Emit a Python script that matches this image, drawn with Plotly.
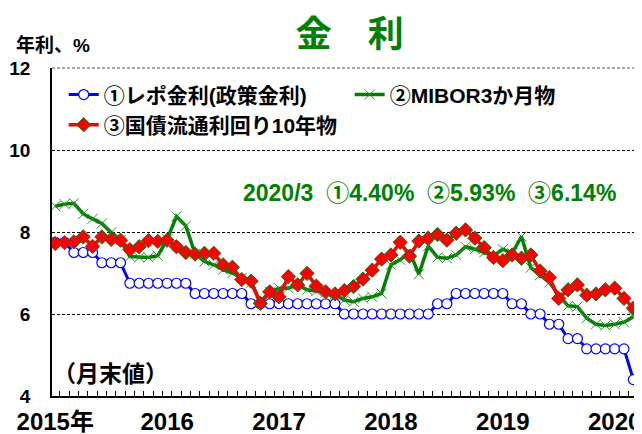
import plotly.graph_objects as go

months = [f"{y}/{m:02d}" for y in range(2015, 2021) for m in range(1, 13)][:63]

repo = [7.75, 7.75, 7.50, 7.50, 7.50, 7.25, 7.25, 7.25, 6.75, 6.75, 6.75, 6.75,
        6.75, 6.75, 6.75, 6.50, 6.50, 6.50, 6.50, 6.50, 6.50, 6.25, 6.25, 6.25,
        6.25, 6.25, 6.25, 6.25, 6.25, 6.25, 6.25, 6.00, 6.00, 6.00, 6.00, 6.00,
        6.00, 6.00, 6.00, 6.00, 6.00, 6.25, 6.25, 6.50, 6.50, 6.50, 6.50, 6.50,
        6.50, 6.25, 6.25, 6.00, 6.00, 5.75, 5.75, 5.40, 5.40, 5.15, 5.15, 5.15,
        5.15, 5.15, 4.40]

mibor = [8.63, 8.68, 8.70, 8.44, 8.32, 8.21, 7.99, 7.80, 7.40, 7.38, 7.38, 7.42,
         7.82, 8.38, 8.15, 7.47, 7.28, 7.20, 7.08, 7.00, 6.88, 6.76, 6.30, 6.54,
         6.63, 6.63, 6.72, 6.59, 6.56, 6.52, 6.48, 6.34, 6.30, 6.38, 6.42, 6.50,
         7.20, 7.32, 7.52, 6.97, 7.66, 7.38, 7.36, 7.44, 7.64, 7.58, 7.50, 7.42,
         7.58, 7.48, 7.89, 7.13, 6.95, 6.77, 6.46, 6.20, 6.18, 5.90, 5.75, 5.72,
         5.75, 5.80, 5.93]

gsec = [7.72, 7.74, 7.76, 7.88, 7.65, 7.88, 7.82, 7.80, 7.57, 7.64, 7.79, 7.77,
        7.80, 7.64, 7.50, 7.46, 7.48, 7.48, 7.20, 7.14, 6.84, 6.80, 6.26, 6.54,
        6.42, 6.91, 6.71, 6.99, 6.68, 6.54, 6.49, 6.57, 6.67, 6.85, 7.07, 7.34,
        7.44, 7.75, 7.41, 7.78, 7.85, 7.94, 7.80, 7.97, 8.05, 7.85, 7.62, 7.38,
        7.30, 7.44, 7.36, 7.44, 7.05, 6.89, 6.38, 6.59, 6.71, 6.46, 6.49, 6.59,
        6.63, 6.38, 6.14]

series_names = ["①レポ金利(政策金利)", "②MIBOR3か月物", "③国債流通利回り10年物"]
year_months = ["2015/01", "2016/01", "2017/01", "2018/01", "2019/01", "2020/01"]
year_labels = ["2015年", "2016", "2017", "2018", "2019", "2020"]
y_ticks = [4, 6, 8, 10, 12]
latest_note = "2020/3  ①4.40%  ②5.93%  ③6.14%"

xi = list(range(len(months)))
jp = "Liberation Sans, Noto Sans CJK JP"
narrow = "Liberation Sans Narrow, Liberation Sans, Noto Sans CJK JP"

fig = go.Figure()
fig.add_trace(go.Scatter(
    x=xi, y=repo, name=series_names[0], mode="lines+markers", legend="legend",
    line=dict(color="#0000FF", width=3),
    marker=dict(symbol="circle", size=10, color="white",
                line=dict(color="#0000FF", width=1.2))))
fig.add_trace(go.Scatter(
    x=xi, y=mibor, name=series_names[1], mode="lines+markers", legend="legend2",
    line=dict(color="#008000", width=3.5),
    marker=dict(symbol="x-thin-open", size=10, color="#2e8b2e",
                line=dict(color="#2e8b2e", width=1))))
fig.add_trace(go.Scatter(
    x=xi, y=gsec, name=series_names[2], mode="lines+markers", legend="legend3",
    line=dict(color="#FF0000", width=3.5),
    marker=dict(symbol="diamond", size=11, color="#FF0000",
                line=dict(color="#1a6e1a", width=1))))

legfont = dict(family=jp, size=21, color="black", weight="bold")
fig.update_layout(
    width=634, height=426,
    showlegend=True,
    margin=dict(l=44, r=4, t=60, b=38, autoexpand=False),
    paper_bgcolor="white", plot_bgcolor="white",
    title=dict(text="金　利", x=0.539, xref="container", y=0.938, yref="container",
               xanchor="center", yanchor="middle",
               font=dict(family=jp, size=36, color="#008000", weight="bold")),
    legend=dict(x=0.020, y=0.918, xanchor="left", yanchor="middle", font=legfont,
                bgcolor="rgba(0,0,0,0)", itemwidth=30),
    legend2=dict(x=0.508, y=0.918, xanchor="left", yanchor="middle", font=legfont,
                 bgcolor="rgba(0,0,0,0)", itemwidth=30),
    legend3=dict(x=0.020, y=0.826, xanchor="left", yanchor="middle", font=legfont,
                 bgcolor="rgba(0,0,0,0)", itemwidth=30),
    xaxis=dict(range=[-0.35, 62.5], tickvals=[months.index(m) for m in year_months],
               ticktext=year_labels, ticks="", showgrid=False, zeroline=False,
               showline=True, linecolor="black", linewidth=1.5,
               ticklabelstandoff=3, automargin=False,
               tickfont=dict(family=narrow, size=24, color="black", weight="bold"),
               minor=dict(tick0=-0.5, dtick=1, ticks="inside", ticklen=5,
                          tickwidth=1, tickcolor="black", showgrid=False)),
    yaxis=dict(range=[4, 12], tickvals=y_ticks, ticks="", showgrid=True,
               gridcolor="black", gridwidth=1, griddash="3px,2px", zeroline=False,
               showline=True, linecolor="black", linewidth=1.5,
               ticklabelstandoff=16, automargin=False,
               tickfont=dict(family=narrow, size=19, color="black", weight="bold")),
    shapes=[
        dict(type="line", xref="paper", yref="paper", x0=0, x1=1, y0=1, y1=1,
             line=dict(color="#555555", width=1, dash="3px,2px")),
        dict(type="line", xref="paper", yref="paper", x0=1, x1=1, y0=0, y1=1,
             line=dict(color="#888888", width=2.5)),
    ],
    annotations=[
        dict(text="年利、%", xref="paper", yref="paper", x=-0.065, y=1.07,
             xanchor="left", yanchor="middle", showarrow=False,
             font=dict(family=jp, size=19, color="black", weight="bold")),
        dict(text=latest_note, xref="paper", yref="paper", x=0.645, y=0.619,
             xanchor="center", yanchor="middle", showarrow=False,
             font=dict(family=jp, size=23, color="#008000", weight="bold")),
        dict(text="（月末値）", xref="paper", yref="paper", x=0.1, y=0.067,
             xanchor="center", yanchor="middle", showarrow=False,
             font=dict(family=jp, size=23, color="black", weight="bold")),
    ],
)

fig.write_html("out.html")
